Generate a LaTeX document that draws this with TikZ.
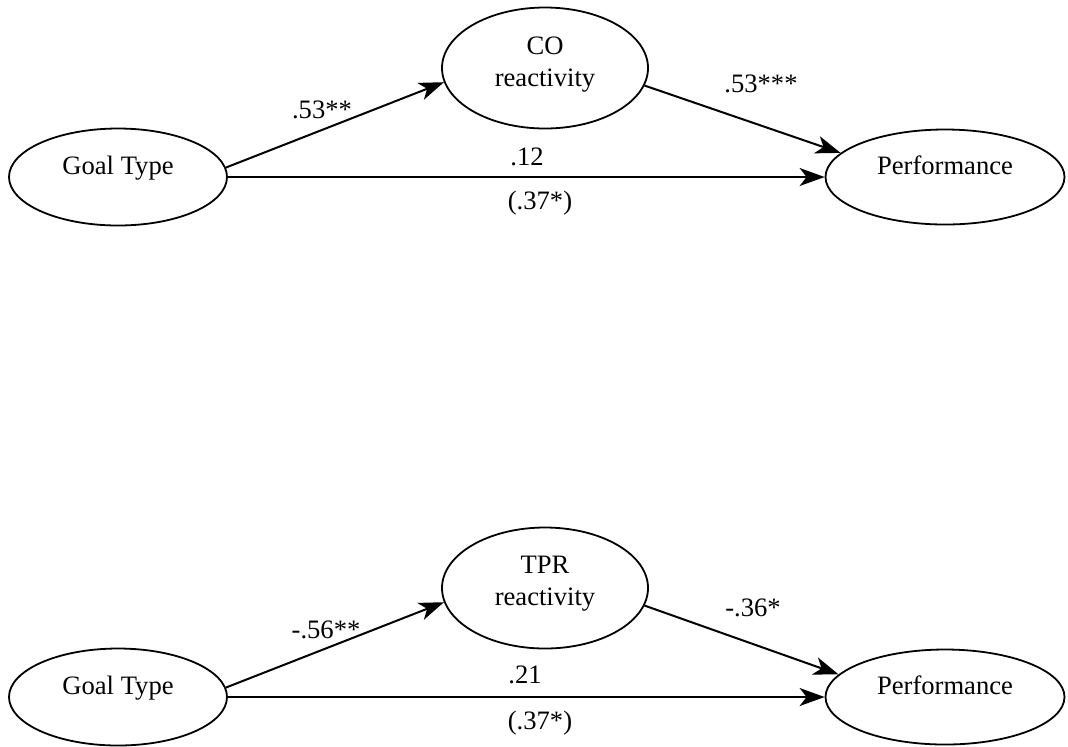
\documentclass[tikz,border=0pt]{standalone}
\usepackage{fontspec}
\setmainfont{Liberation Serif}
\usetikzlibrary{shapes,arrows.meta}
\tikzstyle{latent} = [ellipse, draw=black, line width=0.9pt, inner sep=0pt, minimum width=109pt, minimum height=48.5pt, text centered, text depth=12pt]
\tikzstyle{mediator} = [ellipse, draw=black, line width=0.9pt, inner sep=0pt, minimum width=103pt, minimum height=60.5pt, align=center, text depth=6.8pt]
\tikzstyle{outcome} = [latent, minimum width=119.5pt, minimum height=47.5pt]
\tikzstyle{coef} = [inner sep=0pt]
\tikzstyle{arrow} = [line width=1pt, -{Stealth[length=12.5pt, width=9pt, inset=3.5pt]}]

\begin{document}
\begin{tikzpicture}[x=0.5pt, y=-0.5pt, font=\fontsize{13.3}{16}\selectfont]
                        \useasboundingbox (0,0) rectangle (1068,746);
                        % CO model
                        \node (goal1) [latent] at (118,177) {Goal Type};
                        \node (co) [mediator] at (545,68) {CO\\reactivity};
                        \node (perf1) [outcome] at (945,177) {Performance};
                        \draw [arrow] (goal1.5) -- (co.188);
                        \draw [arrow] (co.-10) -- (perf1.167);
                        \draw [arrow] (goal1.east) -- (perf1.west);
                        \node (a1) [coef] at (322,110) {.53**};
                        \node (b1) [coef] at (761,84) {.53***};
                        \node (c1) [coef] at (527,157) {.12};
                        \node (t1) [coef] at (540,203) {(.37*)};
                        % TPR model
                        \node (goal2) [latent] at (118,697) {Goal Type};
                        \node (tpr) [mediator] at (545,588) {TPR\\reactivity};
                        \node (perf2) [outcome] at (945,697) {Performance};
                        \draw [arrow] (goal2.5) -- (tpr.188);
                        \draw [arrow] (tpr.-10) -- (perf2.168);
                        \draw [arrow] (goal2.east) -- (perf2.west);
                        \node (a2) [coef] at (326,630) {-.56**};
                        \node (b2) [coef] at (753,608) {-.36*};
                        \node (c2) [coef] at (525,675) {.21};
                        \node (t2) [coef] at (540,723) {(.37*)};
                    \end{tikzpicture}
\end{document}
